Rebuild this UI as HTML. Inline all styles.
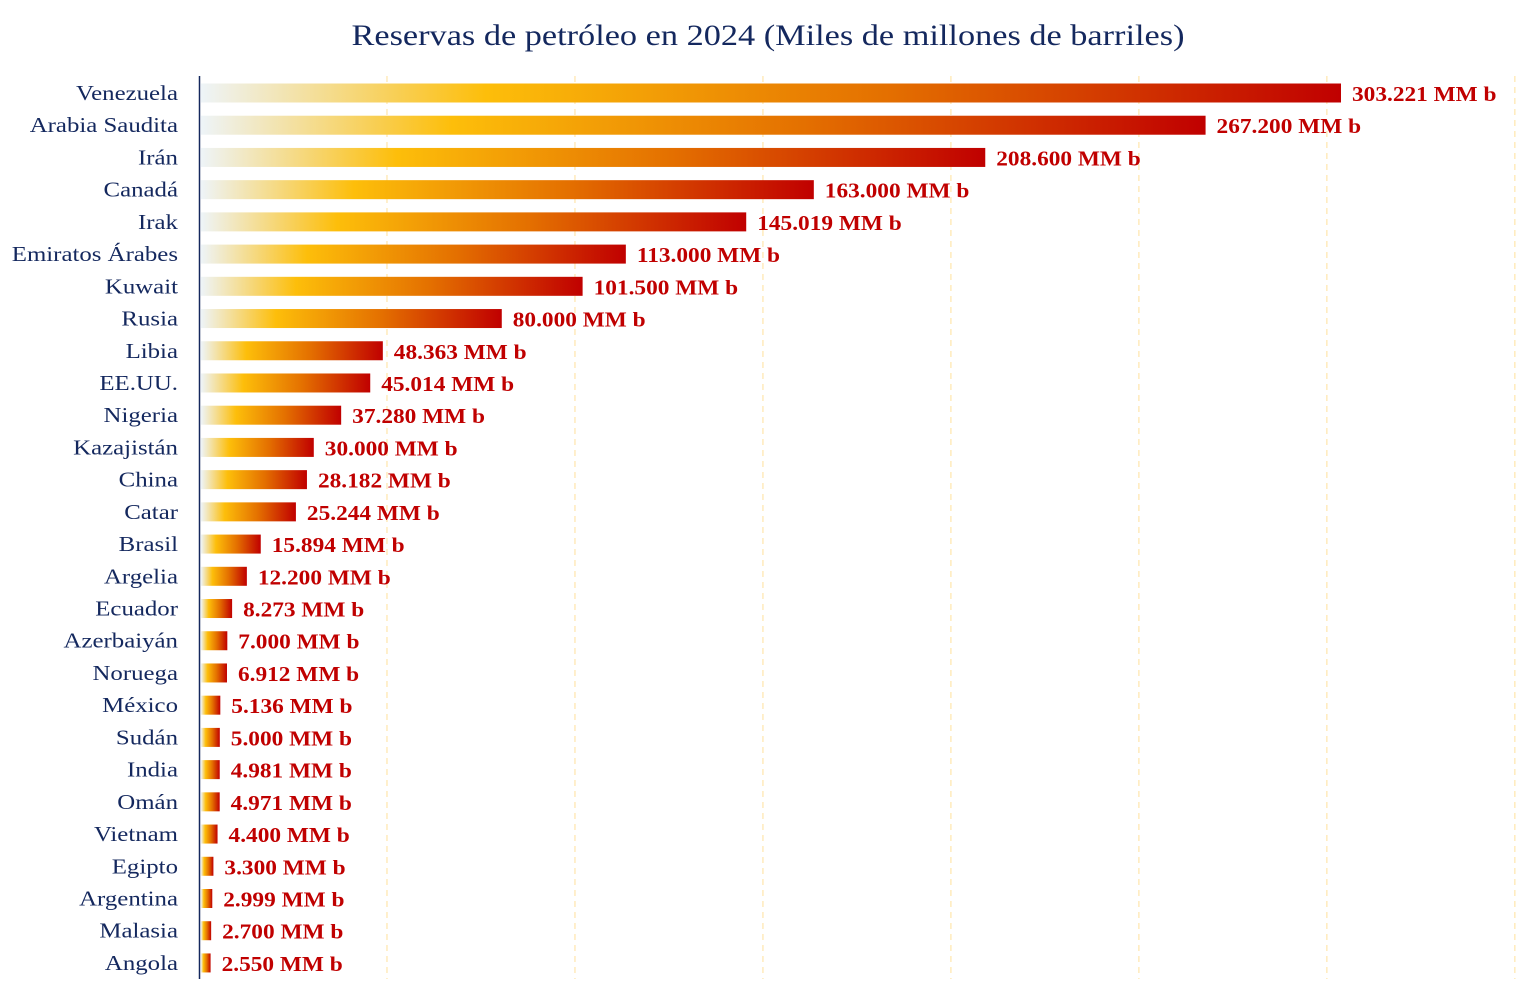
<!DOCTYPE html>
<html><head><meta charset="utf-8"><style>
body{margin:0;background:#fff;}
svg{display:block;font-family:"Liberation Serif","DejaVu Serif",serif;}
</style></head><body>
<svg id="chart" width="1538" height="1000">
<text x="768" y="45" text-anchor="middle" font-size="30" fill="#14285e" textLength="833" lengthAdjust="spacingAndGlyphs">Reservas de petróleo en 2024 (Miles de millones de barriles)</text>
<g id="grid"></g><g id="bars"></g>
<line x1="199.5" y1="76" x2="199.5" y2="979" stroke="#14285e" stroke-width="1.5"/>
</svg>
<script>
const countries=["Venezuela","Arabia Saudita","Irán","Canadá","Irak","Emiratos Árabes","Kuwait","Rusia","Libia","EE.UU.","Nigeria","Kazajistán","China","Catar","Brasil","Argelia","Ecuador","Azerbaiyán","Noruega","México","Sudán","India","Omán","Vietnam","Egipto","Argentina","Malasia","Angola"];
const values=[303.221,267.2,208.6,163,145.019,113,101.5,80,48.363,45.014,37.28,30,28.182,25.244,15.894,12.2,8.273,7,6.912,5.136,5,4.981,4.971,4.4,3.3,2.999,2.7,2.55];
const labels=["303.221","267.200","208.600","163.000","145.019","113.000","101.500","80.000","48.363","45.014","37.280","30.000","28.182","25.244","15.894","12.200","8.273","7.000","6.912","5.136","5.000","4.981","4.971","4.400","3.300","2.999","2.700","2.550"];
const gridTicks=[50,100,150,200,250,300,350];
const NS="http://www.w3.org/2000/svg";
const x0=201, pxPer=(1341-201)/303.221;
const xs=v=>x0+v*pxPer;
const yc=i=>93+i*32.22;
const svg=document.getElementById('chart');
const defs=document.createElementNS(NS,'defs');
defs.innerHTML='<linearGradient id="g" x1="0" x2="1" y1="0" y2="0"><stop offset="0" stop-color="#eef4f8"/><stop offset="0.25" stop-color="#fdbe0a"/><stop offset="0.6" stop-color="#e47000"/><stop offset="1" stop-color="#c00000"/></linearGradient>';
svg.insertBefore(defs,svg.firstChild);
const grid=document.getElementById('grid');
gridTicks.forEach(t=>{
  const l=document.createElementNS(NS,'line');
  l.setAttribute('x1',xs(t)-2);l.setAttribute('x2',xs(t)-2);
  l.setAttribute('y1',76);l.setAttribute('y2',979);
  l.setAttribute('stroke','#ffe09a');l.setAttribute('stroke-dasharray','6,5');
  
  
  grid.appendChild(l);
});
const bars=document.getElementById('bars');
function widen(el,f){const w=el.getComputedTextLength();el.setAttribute('textLength',w*f);el.setAttribute('lengthAdjust','spacingAndGlyphs');}
countries.forEach((c,i)=>{
  const y=yc(i);
  const t=document.createElementNS(NS,'text');
  t.setAttribute('x',178);t.setAttribute('y',y+7);t.setAttribute('text-anchor','end');
  t.setAttribute('font-size','21.5');t.setAttribute('fill','#14285e');
  t.textContent=c;
  
  
  bars.appendChild(t);
  widen(t,1.155);
  const r=document.createElementNS(NS,'rect');
  r.setAttribute('x',x0);r.setAttribute('y',y-9.5);
  r.setAttribute('width',xs(values[i])-x0);r.setAttribute('height',19);
  r.setAttribute('fill','url(#g)');
  
  
  bars.appendChild(r);
  const v=document.createElementNS(NS,'text');
  v.setAttribute('x',xs(values[i])+11);v.setAttribute('y',y+8);
  v.setAttribute('font-size','21.5');v.setAttribute('font-weight','bold');v.setAttribute('fill','#c00000');
  v.textContent=labels[i]+' MM b';
  
  
  bars.appendChild(v);
  widen(v,1.085);
});
</script>
</body></html>
